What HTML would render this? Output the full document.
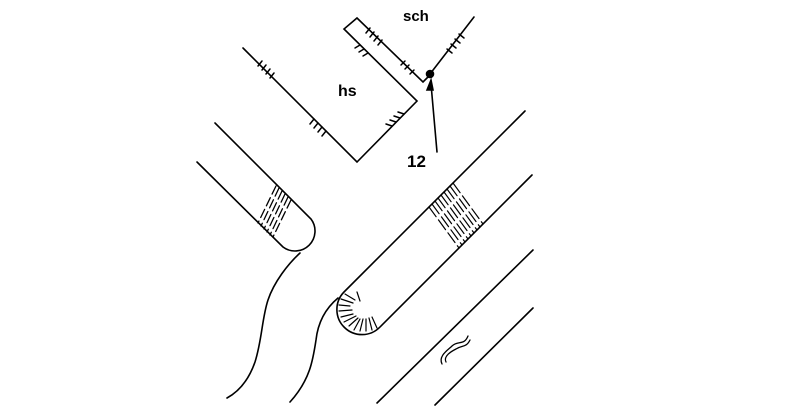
<!DOCTYPE html>
<html><head><meta charset="utf-8"><style>
html,body{margin:0;padding:0;background:#fff;width:800px;height:419px;overflow:hidden}
svg{display:block}
text{font-family:"Liberation Sans",sans-serif;font-weight:bold;fill:#000}
</style></head><body>
<svg width="800" height="419" viewBox="0 0 800 419" xmlns="http://www.w3.org/2000/svg">
<g fill="none" stroke="#000" stroke-width="1.6" stroke-linecap="round">
<polyline points="243,48 357,162 417,101 344,29 357,18 423,82 430,75"/>
<line x1="430" y1="74" x2="474" y2="17"/>
<g stroke-width="1.5">
<path d="M258,66 l4,-5 M262,70 l4,-5 M266,74 l4,-5 M270,78 l4,-5"/>
<path d="M310,124 l4,-5 M314,128 l4,-5 M318,132 l4,-5 M322,136 l4,-5"/>
<path d="M386,124 l6,2 M390,120 l6,2 M394,116 l6,2 M398,112 l6,2"/>
<path d="M366,33 l4,-5 M370,37 l4,-5 M374,41 l4,-5 M378,45 l4,-5"/>
<path d="M355,48 l5,-3 M359,52 l5,-3 M363,56 l5,-3"/>
<path d="M401,65 l4,-4 M405,69 l4,-4 M410,74 l4,-4"/>
<path d="M447,49 l5,4 M451,44 l5,4 M455,39 l5,4 M459,34 l5,4"/>
</g>
<circle cx="430" cy="74" r="3.5" fill="#000"/>
<line x1="437" y1="152" x2="431" y2="84"/>
<path d="M427,90 L431,80 L433,90 Z" fill="#000"/>
<!-- left pill -->
<path d="M215,123 L311,219 A20,20 0 0 1 283,247 L197,162"/>
<g stroke-width="1.3" stroke-dasharray="9 4">
<line x1="276" y1="186" x2="258" y2="223"/>
<line x1="279" y1="188" x2="261" y2="226"/>
<line x1="282" y1="191" x2="264" y2="229"/>
<line x1="285" y1="194" x2="267" y2="232"/>
<line x1="288" y1="197" x2="270" y2="235"/>
<line x1="291" y1="200" x2="273" y2="237"/>
</g>
<!-- right pill -->
<path d="M525,111 L344,292 A25,25 0 0 0 380,327 L532,175"/>
<g stroke-width="1.2" stroke-dasharray="12 4">
<line x1="429" y1="207" x2="459" y2="248"/>
<line x1="432" y1="204" x2="462" y2="245"/>
<line x1="435" y1="201" x2="465" y2="242"/>
<line x1="438" y1="198" x2="468" y2="239"/>
<line x1="441" y1="195" x2="471" y2="236"/>
<line x1="444" y1="192" x2="474" y2="233"/>
<line x1="447" y1="189" x2="477" y2="230"/>
<line x1="450" y1="186" x2="480" y2="227"/>
<line x1="453" y1="183" x2="483" y2="224"/>
</g>
<g stroke-width="1.2">
<path d="M345,294 l10,6 M341,299 l12,4 M339,305 l11,1 M339,311 l13,-1 M341,317 l12,-3 M344,322 l12,-6 M349,326 l9,-8 M354,330 l6,-11 M360,331 l3,-12 M366,331 l0,-12 M372,330 l-3,-12 M377,328 l-5,-11 M357,292 l3,9"/>
</g>
<path d="M300,253 C288,264 274,282 268,300 C262,318 262,340 255,362 C248,382 238,392 227,398"/>
<path d="M338,298 C326,308 318,322 316,340 C313,360 310,380 290,402"/>
<line x1="377" y1="403" x2="533" y2="250"/>
<line x1="435" y1="405" x2="533" y2="308"/>
<path d="M442,364 C438,356 448,350 452,346 C458,340 464,346 468,336" stroke-width="1.3"/>
<path d="M446,362 C443,356 452,351 456,349 C462,345 466,348 470,340" stroke-width="1.3"/>
</g>
<text x="403" y="21" font-size="15">sch</text>
<text x="338" y="96" font-size="16">hs</text>
<text x="407" y="167" font-size="17" font-weight="normal">12</text>
</svg>
</body></html>
